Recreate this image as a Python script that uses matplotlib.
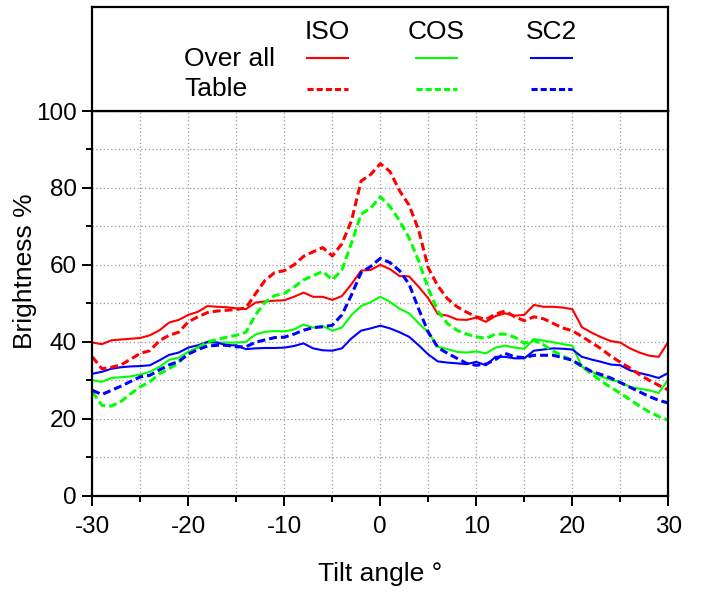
import matplotlib
matplotlib.use('Agg')
import matplotlib.pyplot as plt
from matplotlib.ticker import MultipleLocator

plt.rcParams['font.family'] = ['Liberation Sans', 'DejaVu Sans']
plt.rcParams['axes.unicode_minus'] = False

angles = list(range(-30, 31))

iso_overall = [39.8, 39.4, 40.4, 40.6, 40.8, 41.0, 41.7, 43.0, 45.0, 45.7,
               47.0, 47.8, 49.3, 49.1, 49.0, 48.7, 48.5, 50.2, 50.5, 50.7,
               50.8, 51.7, 52.8, 51.7, 51.7, 50.9, 51.9, 55.0, 58.5, 58.7,
               60.0, 58.9, 57.1, 57.0, 54.3, 51.3, 47.2, 46.8, 45.8, 45.7,
               46.3, 45.2, 46.7, 47.4, 46.8, 47.0, 49.6, 49.1, 49.1, 48.9,
               48.5, 43.8, 42.4, 41.2, 40.2, 39.8, 38.3, 37.2, 36.4, 36.1,
               40.0]
iso_table = [36.1, 33.0, 33.4, 34.0, 35.5, 37.0, 37.7, 40.3, 41.7, 42.5,
             45.2, 46.5, 47.6, 48.0, 48.2, 48.4, 48.8, 52.5, 56.0, 58.0,
             58.5, 60.0, 62.2, 63.4, 64.5, 62.3, 65.5, 71.5, 81.8, 83.5,
             86.3, 84.3, 79.3, 75.5, 69.0, 59.2, 54.5, 51.2, 49.1, 47.7,
             46.5, 45.8, 47.2, 48.0, 46.5, 45.5, 46.5, 46.0, 44.8, 43.6,
             42.9, 41.4, 39.8, 38.2, 36.3, 34.7, 33.2, 31.5, 30.0, 28.7,
             27.5]
cos_overall = [30.0, 29.6, 30.6, 30.8, 31.0, 31.5, 32.2, 33.5, 35.3, 35.9,
               37.4, 38.5, 39.8, 39.8, 39.8, 39.8, 40.0, 41.9, 42.6, 42.8,
               42.7, 43.2, 44.5, 43.7, 44.1, 42.9, 43.7, 47.0, 49.3, 50.3,
               51.7, 50.4, 48.6, 47.4, 44.8, 42.4, 38.7, 38.1, 37.4, 37.2,
               37.5, 37.0, 38.5, 39.0, 38.5, 38.2, 40.7, 40.3, 39.9, 39.4,
               39.0, 33.5, 32.3, 31.0, 30.1, 29.6, 28.3, 27.8, 27.4, 26.7,
               30.2]
cos_table = [27.0, 23.5, 23.3, 24.5, 26.5, 28.3, 29.6, 31.7, 33.0, 34.6,
             37.1, 38.5, 40.0, 40.6, 41.2, 41.7, 42.5, 47.0, 50.3, 52.0,
             52.6, 54.2, 56.1, 57.2, 58.3, 56.1, 58.7, 65.7, 73.2, 74.8,
             77.7, 75.2, 71.5, 67.0, 61.0, 53.8, 48.0, 44.7, 43.0, 42.0,
             41.3, 40.9, 42.0, 42.0, 41.2, 39.6, 40.4, 39.2, 37.6, 36.3,
             35.2, 33.6, 31.7, 29.8, 28.2, 26.6, 25.0, 23.3, 21.8, 20.6,
             19.6]
sc2_overall = [31.7, 32.2, 33.0, 33.4, 33.6, 33.7, 33.9, 35.2, 36.6, 37.2,
               38.5, 39.1, 40.0, 39.8, 39.1, 39.1, 38.1, 38.3, 38.4, 38.4,
               38.5, 38.9, 39.6, 38.3, 37.8, 37.7, 38.3, 40.9, 42.9, 43.5,
               44.2, 43.5, 42.5, 41.3, 39.1, 36.7, 34.9, 34.6, 34.4, 34.2,
               34.8, 33.9, 36.1, 36.1, 35.7, 35.7, 37.7, 38.0, 38.3, 38.2,
               38.0, 36.1, 35.4, 34.8, 34.1, 33.9, 32.6, 31.9, 31.3, 30.6,
               31.9]
sc2_table = [27.4, 26.3, 27.4, 28.5, 29.7, 30.9, 31.3, 32.7, 34.0, 34.9,
             36.8, 38.0, 38.9, 39.1, 39.1, 38.7, 38.7, 39.9, 40.5, 41.1,
             41.2, 42.0, 43.0, 43.7, 43.9, 44.3, 47.0, 52.2, 58.0, 59.6,
             61.7, 60.6, 58.5, 55.0, 48.5, 42.5, 38.5, 37.0, 35.7, 34.4,
             33.9, 34.2, 35.4, 37.0, 36.1, 35.9, 36.5, 36.5, 36.5, 35.9,
             35.2, 33.7, 32.3, 31.5, 30.6, 29.4, 28.2, 27.0, 25.8, 24.8,
             24.1]

methods = ['ISO', 'COS', 'SC2']
colors = ['#ff0000', '#00ff00', '#0000ff']
overall = [iso_overall, cos_overall, sc2_overall]
table = [iso_table, cos_table, sc2_table]

W, H = 701, 593
fig = plt.figure(figsize=(W / 100, H / 100), dpi=100)

# axes position in pixels (left, right, top, bottom)
x0, x1, y0, y1 = 92.3, 668.3, 111, 495.7
ax = fig.add_axes([x0 / W, 1 - y1 / H, (x1 - x0) / W, (y1 - y0) / H])
leg = fig.add_axes([x0 / W, 1 - y0 / H, (x1 - x0) / W, (y0 - 7) / H])

solid_lw = 1.5
dash_lw = 2.2
dash = (2.6, 1.3)

for c, o in zip(colors, overall):
    ax.plot(angles, o, color=c, lw=solid_lw)
for c, t in zip(colors, table):
    ax.plot(angles, t, color=c, lw=dash_lw, dashes=dash)

ax.set_xlim(-30, 30)
ax.set_ylim(0, 100)
ax.xaxis.set_major_locator(MultipleLocator(10))
ax.xaxis.set_minor_locator(MultipleLocator(5))
ax.yaxis.set_major_locator(MultipleLocator(20))
ax.yaxis.set_minor_locator(MultipleLocator(10))
ax.grid(which='both', color='#999999', ls=(0, (1, 2)), lw=0.9)
ax.set_axisbelow(True)
ax.tick_params(which='major', direction='out', length=7.5, width=1.4,
               labelsize=17.5, pad=7)
ax.tick_params(axis='y', which='major', pad=3.5)
ax.tick_params(which='minor', direction='out', length=4, width=1.4)
for s in ax.spines.values():
    s.set_linewidth(1.6)

fig.text(25 / W, 1 - 271.5 / H, 'Brightness %', rotation=90,
         ha='center', va='center', fontsize=19)
fig.text(380.3 / W, 1 - 574 / H, 'Tilt angle °', ha='center', va='center',
         fontsize=19)

# legend box drawn by hand, data coords = pixels
leg.set_xlim(x0, x1)
leg.set_ylim(y0, 7)
leg.set_xticks([])
leg.set_yticks([])
for s in leg.spines.values():
    s.set_linewidth(1.6)

col_x = [327.5, 436.5, 551.5]
for name, c, cx in zip(methods, colors, col_x):
    leg.text(cx, 39, name, ha='center', va='baseline', fontsize=19)
    leg.plot([cx - 20.5, cx + 20.5], [57.7, 57.7], color=c, lw=solid_lw)
    leg.plot([cx - 20.5, cx + 20.5], [88.7, 88.7], color=c, lw=dash_lw,
             dashes=(2.0, 1.0))
leg.text(184, 66, 'Over all', ha='left', va='baseline', fontsize=19)
leg.text(184, 96, 'Table', ha='left', va='baseline', fontsize=19)

fig.savefig('out.png', dpi=100)
